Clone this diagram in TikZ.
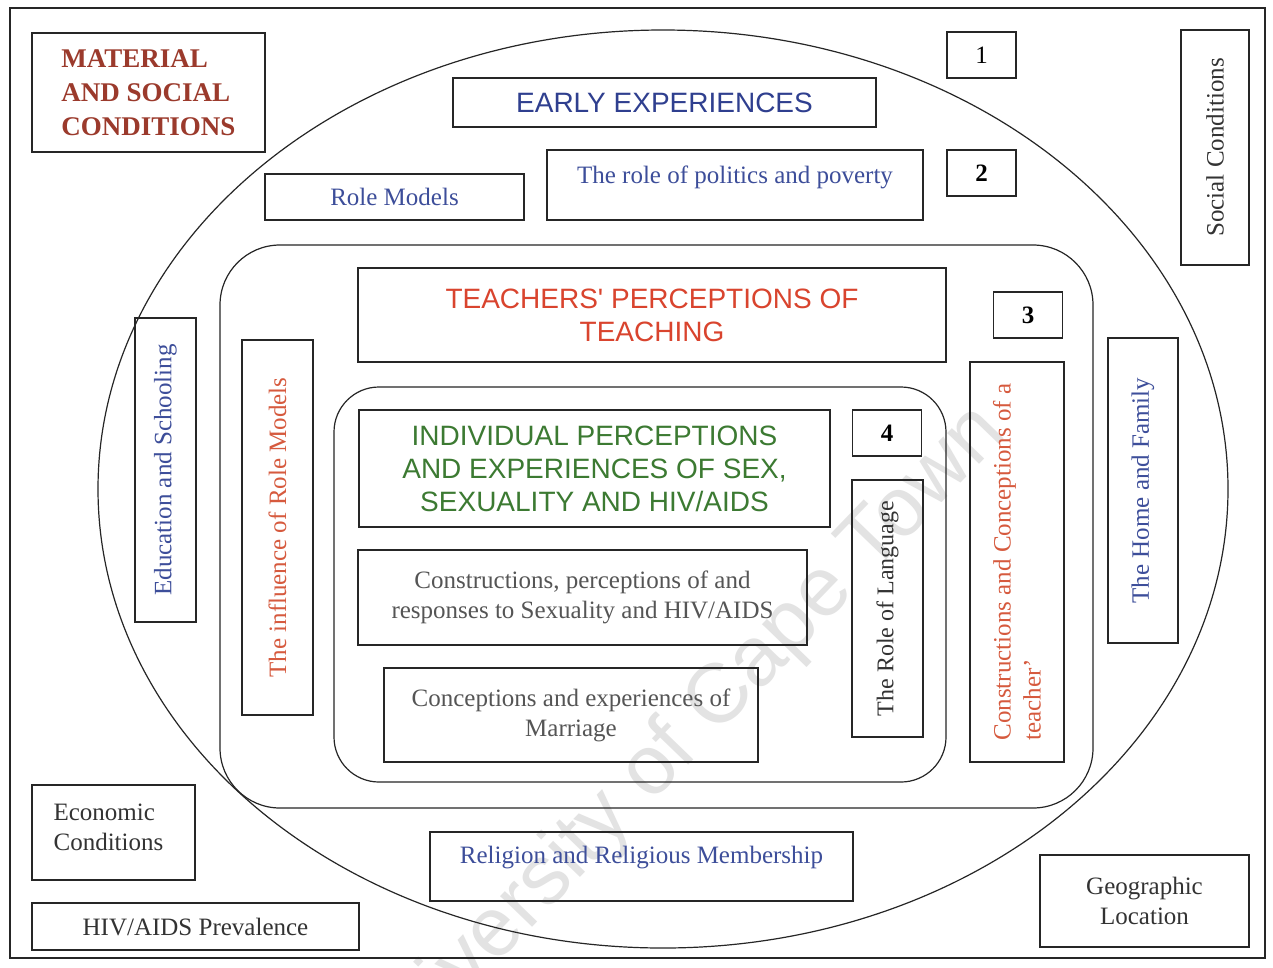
\documentclass[tikz,border=0pt]{standalone}
\usepackage{fontspec}
\setmainfont{Liberation Serif}
\newfontfamily\sansf{Liberation Sans}
\usetikzlibrary{shapes.geometric}
\definecolor{matred}{HTML}{9B3A2C}
\definecolor{dblue}{HTML}{2F3F8F}
\definecolor{mblue}{HTML}{3D4E9A}
\definecolor{tred}{HTML}{D9442E}
\definecolor{ored}{HTML}{D65A3E}
\definecolor{dgreen}{HTML}{3C7A32}
\definecolor{tgray}{HTML}{555555}
\definecolor{dgray}{HTML}{333333}
\begin{document}
\begin{tikzpicture}[x=1pt,y=-1pt,
  line width=1.2pt,
  box/.style={draw=black!85, inner sep=0pt, outer sep=0pt},
  serif/.style={font=\fontsize{25}{30}\selectfont},
  capsans/.style={font=\sansf\fontsize{28}{33}\selectfont},
  numbox/.style={box, minimum width=69pt, minimum height=46pt, font=\fontsize{25}{30}\selectfont},
  vbox/.style={box, rotate=90, serif, align=center}
]
\useasboundingbox (0,0) rectangle (1273,967);
\fill[white] (0,0) rectangle (1273,967);
% watermark (behind everything)
\node[rotate=46, text=black!11, font=\sansf\fontsize{84}{90}\selectfont, inner sep=0pt] (wm) at (678,745) {University of Cape Town};
% outer frame
\node[box, minimum width=1255pt, minimum height=950pt] (frame) at (637.5,483) {};
% ellipse
\node[draw=black!85, ellipse, inner sep=0pt, minimum width=1130pt, minimum height=918pt] (ring2) at (663,489) {};
% rounded rectangles
\node[box, rounded corners=60pt, minimum width=873pt, minimum height=563pt] (ring3) at (656.5,526.5) {};
\node[box, rounded corners=45pt, minimum width=612pt, minimum height=395pt] (ring4) at (640,584.5) {};

% ring 1 (outside)
\node[box, minimum width=233pt, minimum height=119pt, align=left, text=matred,
      font=\bfseries\fontsize{27}{34}\selectfont] (mat) at (148.5,92.5) {MATERIAL\\AND SOCIAL\\CONDITIONS};
\node[numbox] (n1) at (981.5,55) {1};
\node[vbox, minimum width=235pt, minimum height=68pt, text=dgray] (soc) at (1215,147.5) {Social Conditions};
\node[box, minimum width=163pt, minimum height=95pt] (econ) at (113.5,832.5) {};
\node[serif, align=left, text=dgray, inner sep=0pt, anchor=west] (econt) at (53,827) {Economic\\Conditions};
\node[box, minimum width=327pt, minimum height=47pt, serif, text=dgray] (hiv) at (195.5,926.5) {HIV/AIDS Prevalence};
\node[box, minimum width=209pt, minimum height=92pt, serif, align=center, text=dgray] (geo) at (1144.5,901) {Geographic\\Location};

% ring 2
\node[box, minimum width=423pt, minimum height=49pt, capsans, text=dblue] (early) at (664.5,102.5) {EARLY EXPERIENCES};
\node[box, minimum width=259pt, minimum height=46pt, serif, text=mblue] (role) at (394.5,197) {Role Models};
\node[box, minimum width=376pt, minimum height=70pt] (pol) at (735,185) {};
\node[serif, text=mblue, inner sep=0pt] (polt) at (735,177) {The role of politics and poverty};
\node[numbox, font=\bfseries\fontsize{25}{30}\selectfont] (n2) at (981.5,173) {2};
\node[vbox, minimum width=304pt, minimum height=61pt, text=mblue] (edu) at (165.5,470) {Education and Schooling};
\node[vbox, minimum width=305pt, minimum height=70pt, text=mblue] (home) at (1143,490.5) {The Home and Family};
\node[box, minimum width=423pt, minimum height=69pt] (relig) at (641.5,866.5) {};
\node[serif, text=mblue, inner sep=0pt] (religt) at (641.5,858) {Religion and Religious Membership};

% ring 3
\node[box, minimum width=588pt, minimum height=94pt, capsans, align=center, text=tred] (teach) at (652,315) {TEACHERS' PERCEPTIONS OF\\TEACHING};
\node[numbox, font=\bfseries\fontsize{25}{30}\selectfont] (n3) at (1028,315) {3};
\node[vbox, minimum width=375pt, minimum height=71pt, text=ored] (infl) at (277.5,527.5) {The influence of Role Models};
\node[vbox, minimum width=400pt, minimum height=94pt, align=left, text=ored] (cons) at (1017,562) {Constructions and Conceptions of a\\teacher'};

% ring 4
\node[box, minimum width=471pt, minimum height=117pt, capsans, align=center, text=dgreen] (indiv) at (594.5,468.5) {INDIVIDUAL PERCEPTIONS\\AND EXPERIENCES OF SEX,\\SEXUALITY AND HIV/AIDS};
\node[numbox, font=\bfseries\fontsize{25}{30}\selectfont] (n4) at (887,433) {4};
\node[vbox, minimum width=257pt, minimum height=71pt, text=dgray, font=\fontsize{24}{28}\selectfont] (lang) at (887.5,608.5) {The Role of Language};
\node[box, minimum width=449pt, minimum height=95pt, serif, align=center, text=tgray] (sexc) at (582.5,597.5) {Constructions, perceptions of and\\responses to Sexuality and HIV/AIDS};
\node[box, minimum width=374pt, minimum height=94pt, serif, align=center, text=tgray] (marr) at (571,715) {Conceptions and experiences of\\Marriage};
\end{tikzpicture}
\end{document}
